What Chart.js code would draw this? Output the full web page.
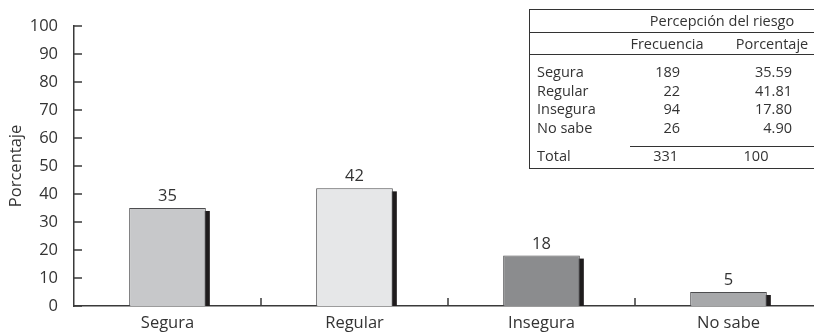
<!DOCTYPE html>
<html>
<head>
<meta charset="utf-8">
<script src="https://cdn.jsdelivr.net/npm/chart.js@4/dist/chart.umd.min.js"></script>
<style>
  html, body { margin: 0; padding: 0; background: #fff; overflow: hidden; width: 814px; height: 333px; }
  #grafico { position: absolute; left: 0; top: 0; }
  .t { position: absolute; font-family: 'Open Sans', sans-serif; font-weight: 400; font-size: 14.5px; color: #333; white-space: nowrap; line-height: 18px; height: 18px; }
  .h { position: absolute; height: 0; border-top: 1px solid #333; }
  .v { position: absolute; width: 0; border-left: 1px solid #333; }
</style>
</head>
<body>
<canvas id="grafico" width="832" height="333"></canvas>
<div id="tabla"></div>
<script>
// Percepción del riesgo: categorías y valores
const categorias = ['Segura', 'Regular', 'Insegura', 'No sabe'];
const valores = [35, 42, 18, 5];
const frecuencias = [189, 22, 94, 26];
const porcentajes = ['35.59', '41.81', '17.80', '4.90'];
const totalFrecuencia = 331;
const totalPorcentaje = 100;
const yMin = 0, yMax = 100, yPaso = 10;

const colores = ['#c7c8ca', '#e6e7e8', '#8b8c8e', '#a7a8aa'];
const FUENTE = "'Open Sans', sans-serif";
const TEXTO = '#333';
const EJE = '#3a3a3a';
const TAM = 16.5;
const PESO = 400;

// Sombra negra desplazada detrás de cada barra
const sombra = {
  id: 'sombra',
  beforeDatasetsDraw(chart) {
    const { ctx, chartArea } = chart;
    ctx.save();
    ctx.beginPath();
    ctx.rect(chartArea.left, chartArea.top, chartArea.right - chartArea.left, chartArea.bottom - chartArea.top);
    ctx.clip();
    ctx.fillStyle = '#1f1c1d';
    chart.getDatasetMeta(0).data.forEach(b => {
      ctx.fillRect(b.x - b.width / 2 + 4, b.y + 3, b.width, b.base - b.y - 3);
    });
    ctx.restore();
  }
};

// Valor encima de cada barra y marcas interiores de los ejes
const extras = {
  id: 'extras',
  afterDatasetsDraw(chart) {
    const { ctx } = chart;
    ctx.save();
    ctx.font = `${PESO} ${TAM}px ${FUENTE}`;
    ctx.fillStyle = TEXTO;
    ctx.textAlign = 'center';
    ctx.textBaseline = 'alphabetic';
    chart.getDatasetMeta(0).data.forEach((b, i) => {
      ctx.fillText(String(valores[i]), b.x, b.y - 7);
    });
    ctx.restore();
  },
  afterDraw(chart) {
    const { ctx, scales } = chart;
    const x = scales.x, y = scales.y;
    ctx.save();
    ctx.strokeStyle = EJE;
    ctx.lineWidth = 1.5;
    ctx.beginPath();
    y.ticks.forEach(t => {
      const py = y.getPixelForValue(t.value);
      ctx.moveTo(y.right, py);
      ctx.lineTo(y.right + 8, py);
    });
    for (let i = 0; i < categorias.length - 1; i++) {
      const px = (x.getPixelForValue(i) + x.getPixelForValue(i + 1)) / 2;
      ctx.moveTo(px, x.top);
      ctx.lineTo(px, x.top - 8);
    }
    ctx.stroke();
    ctx.restore();
  }
};

new Chart(document.getElementById('grafico'), {
  type: 'bar',
  data: {
    labels: categorias,
    datasets: [{
      data: valores,
      backgroundColor: colores,
      borderColor: '#4d4d4f',
      borderWidth: 1,
      categoryPercentage: 1,
      barPercentage: 0.41
    }]
  },
  options: {
    responsive: false,
    animation: false,
    devicePixelRatio: 1,
    layout: { padding: { top: 24, right: 10, left: 0, bottom: 0 } },
    plugins: { legend: { display: false }, tooltip: { enabled: false } },
    scales: {
      x: {
        grid: { display: false, drawTicks: false },
        border: { color: EJE, width: 1.5 },
        ticks: { padding: 7, color: TEXTO, font: { family: FUENTE, size: TAM, weight: PESO } },
        afterFit(s) { s.height = 27; }
      },
      y: {
        min: yMin, max: yMax,
        grid: { display: false, drawTicks: false },
        border: { color: EJE, width: 1.5 },
        ticks: { stepSize: yPaso, padding: 16, color: TEXTO, font: { family: FUENTE, size: TAM, weight: PESO } },
        title: { display: true, text: 'Porcentaje', color: TEXTO, font: { family: FUENTE, size: TAM, weight: PESO }, padding: { top: 6, bottom: 0 } },
        afterFit(s) { s.width = 74; }
      }
    }
  },
  plugins: [sombra, extras]
});

// Tabla de frecuencias
(function () {
  const cont = document.getElementById('tabla');
  function texto(str, x, yc, align) {
    const d = document.createElement('div');
    d.className = 't';
    d.textContent = str;
    d.style.top = (yc - 9) + 'px';
    if (align === 'right') { d.style.right = (814 - x) + 'px'; }
    else if (align === 'center') { d.style.left = x + 'px'; d.style.transform = 'translateX(-50%)'; }
    else { d.style.left = x + 'px'; }
    cont.appendChild(d);
  }
  function linea(x1, x2, y) {
    const d = document.createElement('div');
    d.className = 'h';
    d.style.left = x1 + 'px'; d.style.width = (x2 - x1) + 'px'; d.style.top = y + 'px';
    cont.appendChild(d);
  }
  const vl = document.createElement('div');
  vl.className = 'v';
  vl.style.left = '529px'; vl.style.top = '9px'; vl.style.height = '160px';
  cont.appendChild(vl);
  linea(529, 814, 9);
  linea(529, 814, 32);
  linea(529, 814, 54);
  linea(630, 814, 146);
  linea(529, 814, 168);

  texto('Percepción del riesgo', 722, 21, 'center');
  texto('Frecuencia', 667, 44, 'center');
  texto('Porcentaje', 772, 44, 'center');
  const filas = [72, 91, 109, 128];
  categorias.forEach((c, i) => {
    texto(c, 537, filas[i], 'left');
    texto(String(frecuencias[i]), 680, filas[i], 'right');
    texto(porcentajes[i], 792, filas[i], 'right');
  });
  texto('Total', 537, 156, 'left');
  texto(String(totalFrecuencia), 678, 156, 'right');
  texto(String(totalPorcentaje), 756, 156, 'center');
})();
</script>
</body>
</html>
